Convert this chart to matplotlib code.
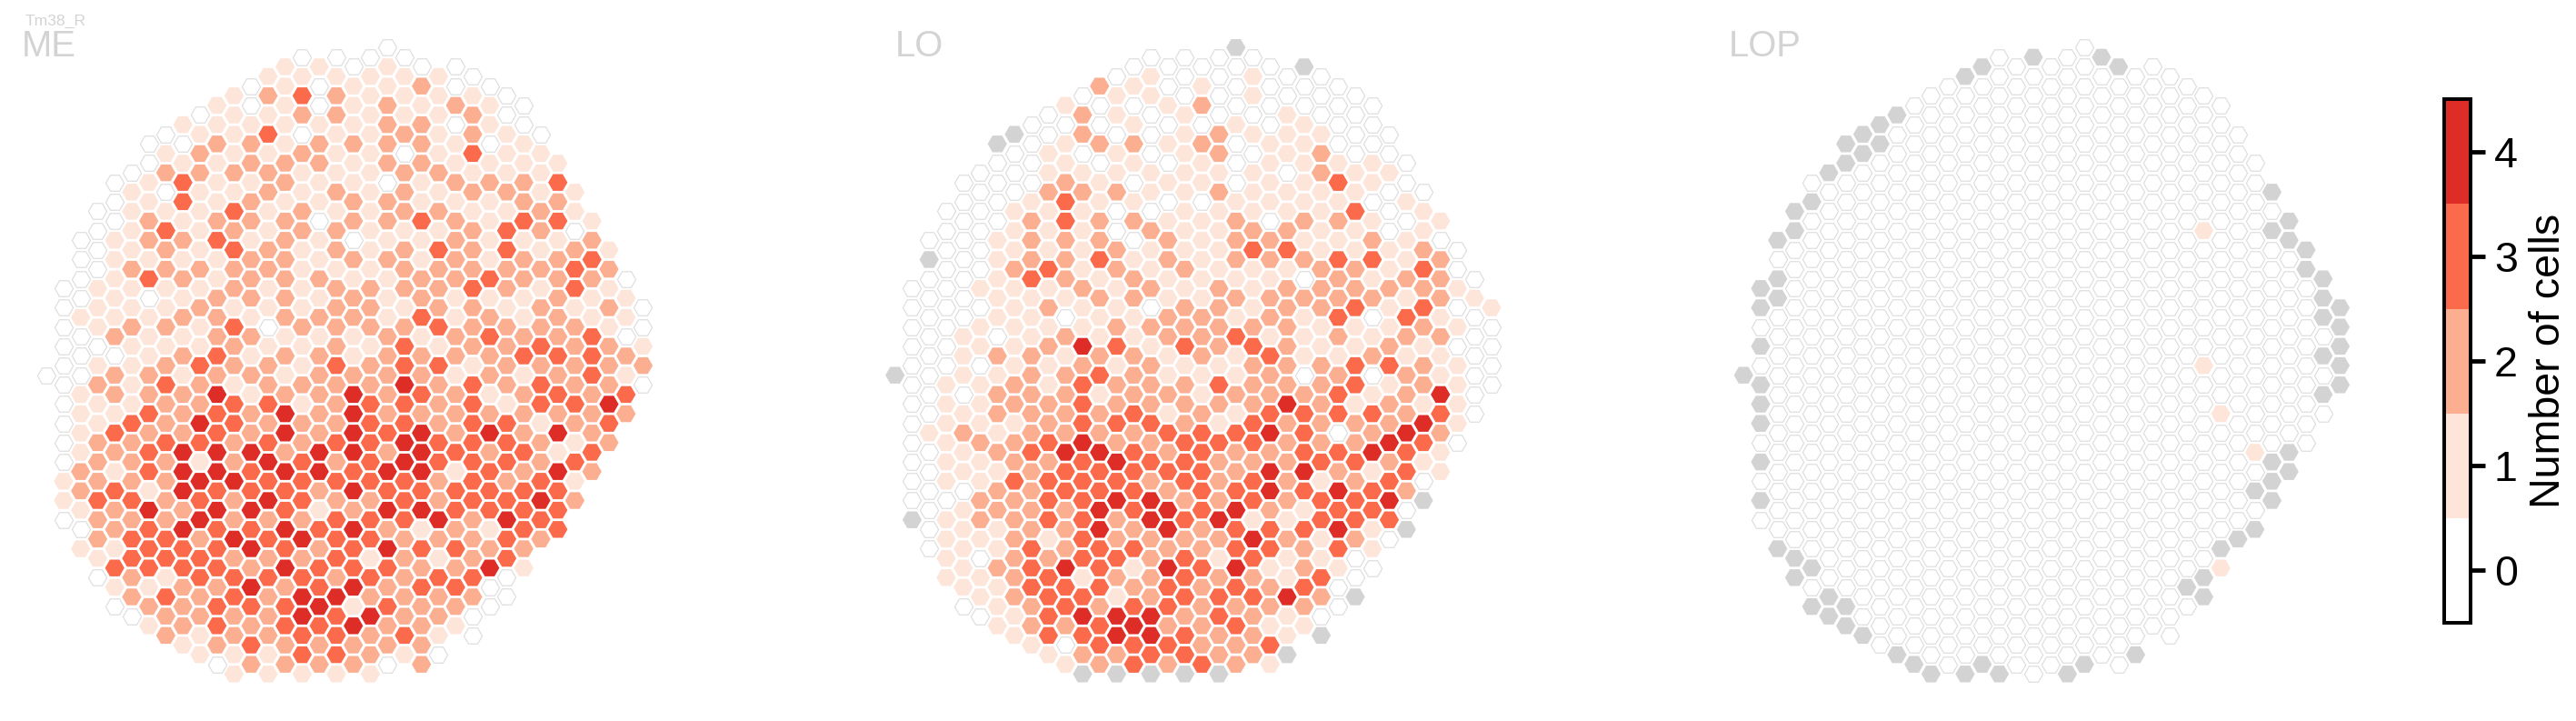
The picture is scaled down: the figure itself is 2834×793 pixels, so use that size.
import numpy as np
import matplotlib
matplotlib.use("Agg")
import matplotlib.pyplot as plt
from matplotlib.colors import ListedColormap, BoundaryNorm
from matplotlib.cm import ScalarMappable

plt.rcParams['font.family'] = ['Liberation Sans', 'DejaVu Sans']

TITLE = "Tm38_R"
PANELS = ["ME", "LO", "LOP"]
CBAR_LABEL = "Number of cells"
CBAR_TICKS = [0, 1, 2, 3, 4]
COLORS = ["#ffffff", "#fee5d9", "#fcae91", "#fb6a4a", "#de2d26"]

# first lattice column of every lattice row (each row holds every 2nd column)
ROW_START = [20, 15, 14, 13, 12, 11, 10, 9, 8, 7, 6, 7, 6, 5, 4, 5, 4, 3, 4, 3, 2, 3, 2, 3, 2, 1, 2, 1, 2, 1, 2, 1, 2,
             1, 0, 1, 2, 1, 2, 1, 2, 1, 2, 1, 2, 1, 2, 1, 2, 1, 2, 3, 2, 3, 4, 3, 4, 5, 4, 5, 6, 7, 8, 9, 10, 11]

# cell counts per row; x = no data (grey)
ME_VALUES = [
    "0", "0000", "110100", "1111110", "01011200", "123211110", "1010121210", "0112211120",
    "11111122010", "011301121210", "002212222101", "121121101311", "0112221221111",
    "0222211122111", "01311211012223", "10112121212211", "01312112211122", "011131211221121",
    "021222022321331", "013121221112320", "0122312101121112", "0121321212323121",
    "0111122122121223", "0222221112222232", "01321222112232220", "01111211222232131",
    "01012221212111211", "011121112212212120", "11122122213121211", "012213022223222210",
    "02112211121232230", "001112112131223221", "00123122122223332", "011232213233122222",
    "002212212222121231", "021321222242323220", "12224122423212323", "01122331233231334",
    "11323242422222222", "01324322233233123", "1322324243424242", "02233232334333212",
    "1234442442432313", "0222124323433323", "2134434434413242", "1222443333323231",
    "231433324333333", "1332324322323342", "124244312443333", "022242223334243",
    "023433434212133", "23324343322232", "11333432343322", "1333222312123",
    "3333243332241", "0213333232330", "112242342330", "232324422220", "022333413220",
    "02222434220", "1232334221", "2122332310", "12322222", "11133210", "0222202", "11111",
]
LO_VALUES = [
    "x", "0000", "00000x", "0100100", "21010000", "011001000", "1001200000", "0210100100",
    "00010010100", "x02001211100", "x01221201100", "010101201200", "0010101011110",
    "0011111110211", "00021011011310", "00222112111100", "00131100111101", "001110011111301",
    "002322112022101", "001110211221101", "0012220212211210", "0011121113311120",
    "x012231212223312", "0023121211122130", "00132121111021220", "00111212121222221",
    "00111221122222121", "000121102212231301", "00110112212130310", "001111222222111210",
    "01012112231121220", "001124313232112100", "01221221213112110", "000112121122233210",
    "x01122321112020210", "011213222322231210", "00222122122231240", "01122322222421211",
    "01222231213333230", "01112333213222241", "1212222333430242", "01223422333222430",
    "0123443232233431", "0112234332223321", "0112333332442131", "0113333232321230",
    "002233323343432", "002233442232334x", "012224343421330", "x12233243411333",
    "01122424233341x", "11213222242120", "01132332233231", "1022332313110",
    "1234314341210", "1123122322130", "113332323230", "12331233342x", "012323322220",
    "01344423210", "1223422311", "133443221x", "10333223", "1223322x", "1232321", "xxxxx",
]
LOP_VALUES = [
    "0", "0x0x", "x000x0", "x000000", "00000000", "000000000", "0000000000", "x000000000",
    "x0000000000", "x00000000000", "xx0000000000", "x00000000000", "x000000000000",
    "x000000000000", "00000000000000", "0000000000000x", "x0000000000000", "x00000000000000",
    "00000000000000x", "x0000000000010x", "x00000000000000x", "000000000000000x",
    "0000000000000000", "000000000000000x", "x000000000000000x", "x0000000000000000",
    "x000000000000000x", "x0000000000000000x", "0000000000000000x", "00000000000000000x",
    "00000000000000000", "x0000000000000000x", "0000000000000000x", "00000000000001000x",
    "x00000000000000000", "x0000000000000000x", "0000000000000000x", "x0000000000000000",
    "00000000000001000", "x0000000000000000", "0000000000000000", "00000000000000000",
    "000000000000001x", "x00000000000000x", "000000000000000x", "000000000000000x",
    "00000000000000x", "x00000000000000x", "000000000000000", "000000000000000",
    "00000000000000x", "0000000000000x", "x000000000000x", "x000000000000",
    "x000000000001", "x00000000000x", "00000000000x", "x0000000000x", "xx0000000000",
    "x0000000000", "x000000000", "x000000000", "00000000", "x000000x", "x0x00x0", "xxx0x",
]

FIG_W, FIG_H = 2834, 793
DPI = 300


def parse(rows):
    cols, lat_rows, vals = [], [], []
    for r, (start, text) in enumerate(zip(ROW_START, rows)):
        for i, ch in enumerate(text):
            cols.append(start + 2 * i)
            lat_rows.append(r)
            vals.append(np.nan if ch == "x" else float(ch))
    return np.array(cols), np.array(lat_rows), np.array(vals)


for r in range(len(ROW_START)):
    assert len(ME_VALUES[r]) == len(LO_VALUES[r]) == len(LOP_VALUES[r]), r

fig = plt.figure(figsize=((FIG_W + 0.01) / DPI, (FIG_H + 0.01) / DPI), dpi=DPI)


def px_axes(x0, y0, x1, y1):
    return fig.add_axes([x0 / FIG_W, 1 - y1 / FIG_H, (x1 - x0) / FIG_W, (y1 - y0) / FIG_H])


cmap = ListedColormap(COLORS)
norm = BoundaryNorm([-0.5, 0.5, 1.5, 2.5, 3.5, 4.5], cmap.N)

COL_STEP, ROW_STEP = 18.75, 10.6
ROW0_Y = 52.3
COL0_X = [51.2, 984.7, 1918.2]
LABEL_X = [24, 985, 1902]

for name, rows, cx, lx in zip(PANELS, [ME_VALUES, LO_VALUES, LOP_VALUES], COL0_X, LABEL_X):
    ax = px_axes(cx - COL_STEP, ROW0_Y - ROW_STEP, cx + 36 * COL_STEP, ROW0_Y + 66 * ROW_STEP)
    ax.set_xlim(-1, 36)
    ax.set_ylim(66, -1)
    ax.axis("off")
    c, r, v = parse(rows)
    empty = v == 0
    filled = v > 0
    grey = np.isnan(v)
    if empty.any():
        ax.scatter(c[empty], r[empty], color="white", marker="H", s=23.5,
                   edgecolors="#dcdcdc", linewidths=0.27, clip_on=False)
    if filled.any():
        ax.scatter(c[filled], r[filled], c=v[filled], cmap=cmap, norm=norm, marker="H", s=26,
                   edgecolors="none", clip_on=False)
    if grey.any():
        ax.scatter(c[grey], r[grey], color="#d3d3d3", marker="H", s=26,
                   edgecolors="none", clip_on=False)
    fig.text(lx / FIG_W, 1 - 62 / FIG_H, name, fontsize=9.6, color="#d3d3d3", ha="left", va="baseline")

fig.text(28 / FIG_W, 1 - 28 / FIG_H, TITLE, fontsize=4.2, color="#d3d3d3", ha="left", va="baseline")

cax = px_axes(2689, 109.3, 2718, 685)
cb = fig.colorbar(ScalarMappable(norm=norm, cmap=cmap), cax=cax, ticks=CBAR_TICKS, spacing="proportional")
cb.outline.set_linewidth(0.95)
cb.outline.set_edgecolor("black")
cb.minorticks_off()
cax.tick_params(axis="y", length=3.8, width=1.15, pad=2.4, labelsize=11.2)
cax.set_yticklabels([str(t) for t in CBAR_TICKS])
cb.set_label(CBAR_LABEL, fontsize=11.2, labelpad=3)

fig.savefig("out.png", dpi=DPI, facecolor="white")
